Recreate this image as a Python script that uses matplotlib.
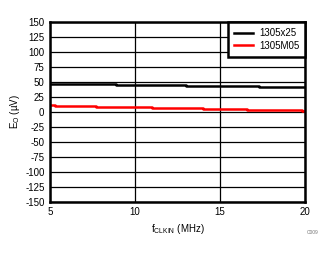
import matplotlib.pyplot as plt
import numpy as np

plt.rcParams['font.family'] = ['Liberation Sans', 'DejaVu Sans']
plt.rcParams['axes.unicode_minus'] = False

# step breakpoints
f_x25 = [5, 8.9, 13.0, 17.3, 20]
eo_x25 = [46, 45, 44, 42.5, 42.5]
f_m05 = [5, 5.3, 7.7, 11.0, 14.0, 16.6, 19.8, 20]
eo_m05 = [12, 10, 8.5, 7, 5, 3.5, 1.5, 1.5]

xticks = [5, 10, 15, 20]
yticks = np.arange(-150, 151, 25)

fig = plt.figure(figsize=(3.34, 2.54), dpi=100)
ax = fig.add_axes([0.1497, 0.205, 0.7633, 0.708])

ax.plot(f_x25, eo_x25, color='black', lw=1.8, drawstyle='steps-post', label='1305x25')
ax.plot(f_m05, eo_m05, color='#ff0000', lw=1.8, drawstyle='steps-post', label='1305M05')

ax.set_xlim(5, 20)
ax.set_ylim(-150, 150)
ax.set_xticks(xticks)
ax.set_yticks(yticks)
ax.grid(True, color='black', lw=0.9)
ax.tick_params(length=0, labelsize=7, pad=4)
for s in ax.spines.values():
    s.set_linewidth(1.8)

ax.set_xlabel('f$_{\\mathregular{CLKIN}}$ (MHz)', fontsize=7, labelpad=3)
ax.set_ylabel('E$_{\\mathregular{O}}$ (µV)', fontsize=7, labelpad=2)

leg = ax.legend(loc='upper right', fontsize=7, frameon=True, fancybox=False,
                borderaxespad=0, handlelength=2.0, handletextpad=0.6,
                borderpad=0.6, labelspacing=0.3)
leg.get_frame().set_edgecolor('black')
leg.get_frame().set_linewidth(1.8)
leg.get_frame().set_alpha(1)

fig.text(0.955, 0.08, 'C009', fontsize=3.5, color='#777777', ha='right')

fig.savefig('out.png', dpi=100)
